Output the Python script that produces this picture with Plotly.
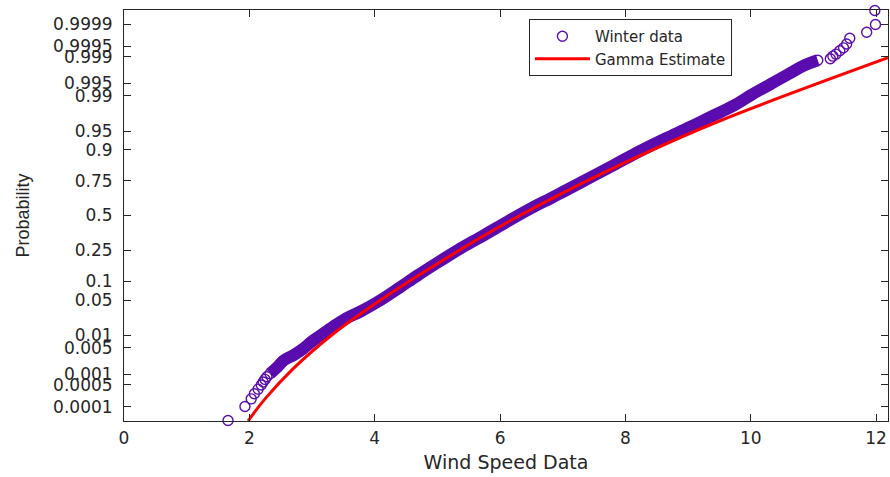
from statistics import NormalDist
import plotly.graph_objects as go

# ---- data ----
# Winter data: wind speed (x) and plotting probability (p)
wind_speed = [1.66, 1.93, 2.03, 2.08, 2.14, 2.19, 2.22, 2.25, 2.28,
              2.33, 2.44, 2.54, 2.70, 2.85, 3.00, 3.13, 3.34, 3.55, 3.77,
              4.09, 4.40, 4.68, 5.05, 5.37, 5.69, 6.17, 6.54, 6.80, 7.02,
              7.44, 7.84, 8.24, 8.64, 9.04, 9.36, 9.73, 10.00, 10.32, 10.64,
              10.85, 11.07,
              11.27, 11.31, 11.36, 11.42, 11.48, 11.53, 11.58, 11.85, 11.99, 11.98]
probability = [0.000033, 0.0001, 0.000179, 0.00026, 0.000362, 0.000483, 0.000598, 0.000711, 0.000845,
               0.00104, 0.00154, 0.00233, 0.00326, 0.00466, 0.00714, 0.00964, 0.0154, 0.0228, 0.0307,
               0.0495, 0.0808, 0.121, 0.189, 0.261, 0.337, 0.468, 0.5675, 0.629, 0.681,
               0.770, 0.841, 0.896, 0.933, 0.958, 0.9726, 0.9838, 0.9904, 0.99477, 0.99728,
               0.99825, 0.99874,
               0.99886, 0.99904, 0.99916, 0.99933, 0.99945, 0.99958, 0.99972, 0.99982, 0.99990, 0.999967]
# index range where the sample is so dense that markers form a solid band
dense_start, dense_end = 9, 41

# Gamma estimate curve
gamma_x = [1.98, 2.25, 2.70, 3.34, 3.93, 4.41, 5.05, 5.69, 6.27, 7.02, 8.24, 9.52, 12.19]
gamma_p = [0.0000317, 0.000179, 0.00144, 0.0107, 0.0375, 0.0823, 0.184, 0.334, 0.488,
           0.674, 0.879, 0.9678, 0.99893]

# probability tick labels
tick_probs = [0.0001, 0.0005, 0.001, 0.005, 0.01, 0.05, 0.1, 0.25, 0.5, 0.75,
              0.9, 0.95, 0.99, 0.995, 0.999, 0.9995, 0.9999]
tick_labels = ["0.0001", "0.0005", "0.001", "0.005", "0.01", "0.05", "0.1", "0.25", "0.5", "0.75",
               "0.9", "0.95", "0.99", "0.995", "0.999", "0.9995", "0.9999"]
x_ticks = [0, 2, 4, 6, 8, 10, 12]

# ---- normal probability scale ----
nd = NormalDist()
def pscale(ps):
    return [nd.inv_cdf(p) for p in ps]

purple = "#5a0cae"
red = "#ff0000"
axis_col = "#262626"

fig = go.Figure()
# solid band formed by overlapping markers
fig.add_trace(go.Scatter(
    x=wind_speed[dense_start:dense_end], y=pscale(probability[dense_start:dense_end]),
    mode="lines", line=dict(color=purple, width=12, shape="spline"), showlegend=False, hoverinfo="skip"))
fig.add_trace(go.Scatter(
    x=wind_speed, y=pscale(probability), mode="markers", name="Winter data",
    marker=dict(symbol="circle-open", size=10, color=purple, line=dict(width=1.4)),
    cliponaxis=False))
fig.add_trace(go.Scatter(
    x=gamma_x, y=pscale(gamma_p), mode="lines", name="Gamma Estimate",
    line=dict(color=red, width=3, shape="spline")))

fig.update_layout(
    width=890, height=477,
    margin=dict(l=124, r=2, t=10, b=56, autoexpand=False),
    paper_bgcolor="white", plot_bgcolor="white",
    font=dict(family="DejaVu Sans", size=17, color=axis_col),
    showlegend=True,
    legend=dict(x=0.530, y=0.978, xanchor="left", yanchor="top",
                bgcolor="white", bordercolor=axis_col, borderwidth=1,
                font=dict(family="DejaVu Sans", size=15, color=axis_col),
                itemwidth=55, tracegroupgap=0),
    xaxis=dict(range=[0, 12.19], tickvals=x_ticks, ticktext=[str(v) for v in x_ticks],
               ticks="inside", ticklen=7, tickcolor=axis_col, mirror="ticks",
               showline=True, linecolor=axis_col, linewidth=1, showgrid=False, zeroline=False,
               ticklabelstandoff=2, automargin=False,
               title=dict(text="Wind Speed Data", font=dict(family="DejaVu Sans", size=19, color=axis_col),
                          standoff=8)),
    yaxis=dict(range=[-4.0, 4.0], tickvals=pscale(tick_probs), ticktext=tick_labels,
               ticks="inside", ticklen=7, tickcolor=axis_col, mirror="ticks",
               showline=True, linecolor=axis_col, linewidth=1, showgrid=False, zeroline=False,
               ticklabelstandoff=7, automargin=False,
               title=dict(text="Probability", font=dict(family="Liberation Sans", size=18, color=axis_col),
                          standoff=18)),
)

fig.write_html("out.html", config={"displayModeBar": False},
               post_script="document.body.style.margin='0px';")
